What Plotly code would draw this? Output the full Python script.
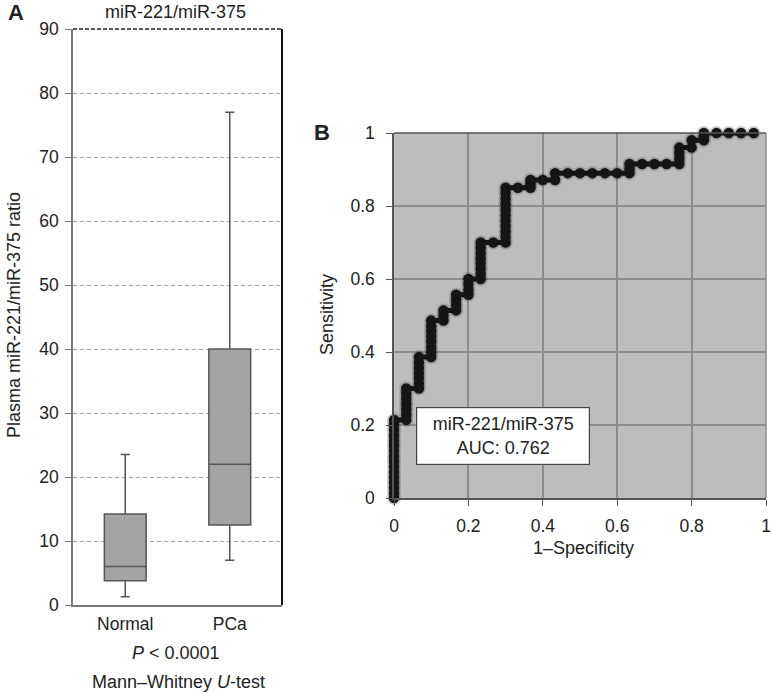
import plotly.graph_objects as go

# ---- Panel A: box plot data ----
groups = ["Normal", "PCa"]
lower_whisker = [1.3, 7.0]
q1_vals = [3.8, 12.5]
median_vals = [6.0, 22.0]
q3_vals = [14.2, 40.0]
upper_whisker = [23.5, 77.0]
a_ticks = [0, 10, 20, 30, 40, 50, 60, 70, 80, 90]

# ---- Panel B: ROC curve data ----
roc_fpr = [0.0] * 16 + [0.033] * 7 + [0.067] * 7 + [0.100] * 8 + [0.133] * 3 + [0.167] * 4 + \
          [0.200] * 4 + [0.233] * 8 + [0.267] + [0.300] * 11 + [0.333] + [0.367] * 3 + [0.400] + \
          [0.433] * 2 + [0.467, 0.500, 0.533, 0.567, 0.600] + [0.633] * 3 + [0.667, 0.700, 0.733] + \
          [0.767] * 4 + [0.800] * 2 + [0.833] * 3 + [0.867, 0.900, 0.933, 0.967]
roc_tpr = [0.000, 0.014, 0.029, 0.043, 0.057, 0.071, 0.086, 0.100, 0.114, 0.129, 0.143, 0.157,
           0.171, 0.186, 0.200, 0.214,
           0.214, 0.229, 0.243, 0.257, 0.271, 0.286, 0.300,
           0.300, 0.314, 0.329, 0.343, 0.357, 0.371, 0.386,
           0.386, 0.400, 0.414, 0.429, 0.443, 0.457, 0.471, 0.486,
           0.486, 0.500, 0.514,
           0.514, 0.529, 0.543, 0.557,
           0.557, 0.571, 0.586, 0.600,
           0.600, 0.614, 0.629, 0.643, 0.657, 0.671, 0.686, 0.700,
           0.700,
           0.700, 0.715, 0.730, 0.745, 0.760, 0.775, 0.790, 0.805, 0.820, 0.835, 0.850,
           0.850,
           0.850, 0.860, 0.871,
           0.871,
           0.871, 0.890,
           0.890, 0.890, 0.890, 0.890, 0.890,
           0.890, 0.902, 0.915,
           0.915, 0.915, 0.915,
           0.915, 0.930, 0.945, 0.960,
           0.960, 0.980,
           0.980, 0.990, 1.000,
           1.000, 1.000, 1.000, 1.000]
b_ticks = [0, 0.2, 0.4, 0.6, 0.8, 1]
b_ticklabels = ["0", "0.2", "0.4", "0.6", "0.8", "1"]

FONT = "Liberation Sans, Arial, Helvetica, sans-serif"
W, H = 772, 693

fig = go.Figure()

fig.add_trace(go.Box(
    x=groups, q1=q1_vals, median=median_vals, q3=q3_vals,
    lowerfence=lower_whisker, upperfence=upper_whisker,
    fillcolor="#a4a4a4", line=dict(color="#555555", width=1.5),
    width=0.4, whiskerwidth=0.22, boxpoints=False, hoverinfo="skip",
    xaxis="x", yaxis="y", showlegend=False,
))

# soft drop shadow under ROC dots (same data, drawn first)
fig.add_trace(go.Scatter(
    x=roc_fpr, y=roc_tpr, mode="markers",
    marker=dict(color="rgba(60,60,60,0.25)", size=14),
    cliponaxis=False, xaxis="x2", yaxis="y2", showlegend=False, hoverinfo="skip",
))
fig.add_trace(go.Scatter(
    x=roc_fpr, y=roc_tpr, mode="lines+markers",
    line=dict(color="#151515", width=5),
    marker=dict(color="#151515", size=10.5),
    cliponaxis=False, xaxis="x2", yaxis="y2", showlegend=False, hoverinfo="skip",
))

# domains from pixel positions
ax_l, ax_r, ax_t, ax_b = 73, 282, 29, 605
bx_l, bx_r, bx_t, bx_b = 394, 766, 133, 498

TICKF = dict(size=17.5, color="#222", family=FONT)

fig.update_layout(
    template="none",
    width=W, height=H, margin=dict(l=0, r=0, t=0, b=0, pad=0, autoexpand=False),
    paper_bgcolor="white", plot_bgcolor="white",
    font=dict(family=FONT, size=18, color="#222222"),
    xaxis=dict(domain=[ax_l / W, ax_r / W], range=[-0.5, 1.5], type="category",
               showgrid=False, showline=True, linecolor="#7a7a7a", linewidth=1.5,
               ticks="", tickfont=TICKF, zeroline=False, automargin=False,
               ticklabelstandoff=2, anchor="y"),
    yaxis=dict(domain=[1 - ax_b / H, 1 - ax_t / H], range=[0, 90], tickvals=a_ticks,
               showgrid=True, gridcolor="#a0a0a0", griddash="4px,3px", gridwidth=1,
               showline=True, linecolor="#7a7a7a", linewidth=1.5, ticks="outside", ticklen=6,
               tickcolor="#7a7a7a", tickfont=TICKF, zeroline=False, automargin=False,
               ticklabelstandoff=3, anchor="x"),
    xaxis2=dict(domain=[bx_l / W, bx_r / W], range=[0, 1], tickvals=b_ticks, ticktext=b_ticklabels,
                showgrid=True, gridcolor="#8c8c8c", gridwidth=1.5, showline=True,
                linecolor="#555555", linewidth=1.5, mirror=False, ticks="outside", ticklen=6,
                tickcolor="#555555", tickfont=TICKF, zeroline=False, automargin=False,
                ticklabelstandoff=5, anchor="y2"),
    yaxis2=dict(domain=[1 - bx_b / H, 1 - bx_t / H], range=[0, 1], tickvals=b_ticks, ticktext=b_ticklabels,
                showgrid=True, gridcolor="#8c8c8c", gridwidth=1.5, showline=True,
                linecolor="#555555", linewidth=1.5, ticks="outside", ticklen=6,
                tickcolor="#555555", tickfont=TICKF, zeroline=False, automargin=False,
                ticklabelstandoff=8, anchor="x2"),
)

# panel B gray background
fig.add_shape(type="rect", xref="x2 domain", yref="y2 domain", x0=0, x1=1, y0=0, y1=1,
              fillcolor="#bdbdbd", line=dict(width=0), layer="below")
# panel B top & right borders
fig.add_shape(type="line", xref="x2 domain", yref="y2 domain", x0=0, x1=1, y0=1, y1=1,
              line=dict(color="#555555", width=1.5))
fig.add_shape(type="line", xref="x2 domain", yref="y2 domain", x0=1, x1=1, y0=0, y1=1,
              line=dict(color="#8c8c8c", width=1.5))
# panel A right border and top dashed border
fig.add_shape(type="line", xref="x domain", yref="y domain", x0=1, x1=1, y0=0, y1=1,
              line=dict(color="#111111", width=2))
fig.add_shape(type="line", xref="x domain", yref="y domain", x0=0, x1=1, y0=1, y1=1,
              line=dict(color="#222222", width=1.5, dash="4px,2px"))

ann = []
def txt(x, y, s, size=18, bold=False, angle=0, xanchor="center"):
    ann.append(dict(x=x / W, y=1 - y / H, xref="paper", yref="paper", text=("<b>%s</b>" % s) if bold else s,
                    showarrow=False, font=dict(size=size, family=FONT, color="#222"),
                    textangle=angle, xanchor=xanchor, yanchor="middle"))

txt(16, 13, "A", size=22, bold=True)
txt(175, 12, "miR-221/miR-375", size=18)
txt(14, 315, "Plasma miR-221/miR-375 ratio", size=18, angle=-90)
txt(176, 653, "<i>P</i> < 0.0001", size=18)
txt(178, 682, "Mann–Whitney <i>U</i>-test", size=18)
txt(322, 132, "B", size=22, bold=True)
txt(327, 315, "Sensitivity", size=18, angle=-90)
txt(583, 548, "1–Specificity", size=18)

ann.append(dict(x=590 / W, y=1 - 464.5 / H, xref="paper", yref="paper",
                text="miR-221/miR-375<br>AUC: 0.762", showarrow=False,
                font=dict(size=18, family=FONT, color="#222"),
                bgcolor="white", bordercolor="#444444", borderwidth=1.2,
                width=170, height=54, borderpad=1, align="center"))
fig.update_layout(annotations=ann)

fig.write_html("out.html", config={"displayModeBar": False},
               post_script="document.body.style.margin='0px';document.body.style.overflow='hidden';")
